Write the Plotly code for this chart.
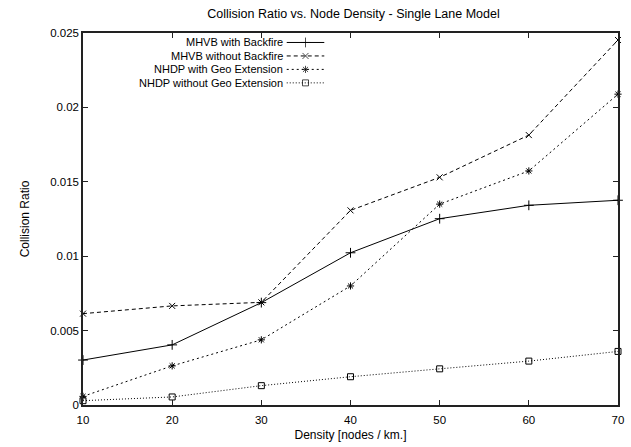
import plotly.graph_objects as go

density = [10, 20, 30, 40, 50, 60, 70]
mhvb_with = [0.00302, 0.00404, 0.00688, 0.01023, 0.01252, 0.01342, 0.01376]
mhvb_without = [0.00614, 0.00666, 0.00690, 0.01308, 0.01530, 0.01814, 0.02453]
nhdp_geo = [0.00058, 0.00263, 0.00438, 0.00800, 0.01350, 0.01573, 0.02089]
nhdp_nogeo = [0.00029, 0.00054, 0.00130, 0.00190, 0.00243, 0.00295, 0.00360]

series_names = ["MHVB with Backfire", "MHVB without Backfire",
                "NHDP with Geo Extension", "NHDP without Geo Extension"]
x_ticks = [10, 20, 30, 40, 50, 60, 70]
y_ticks = [0, 0.005, 0.01, 0.015, 0.02, 0.025]
y_tick_text = ["0", "0.005", "0.01", "0.015", "0.02", "0.025"]

FONT = "Arial, Liberation Sans, Helvetica, sans-serif"
styles = [
    dict(dash="solid", symbol="cross-thin-open", size=7),
    dict(dash="4px,3px", symbol="x-thin-open", size=6),
    dict(dash="2px,3px", symbol="asterisk-open", size=6),
    dict(dash="1px,2px", symbol="square-open", size=6),
]
data = [mhvb_with, mhvb_without, nhdp_geo, nhdp_nogeo]

fig = go.Figure()
for name, ys, st in zip(series_names, data, styles):
    fig.add_trace(go.Scatter(
        x=density, y=ys, name=name, mode="lines+markers",
        line=dict(color="black", width=1, dash=st["dash"]),
        marker=dict(symbol=st["symbol"], size=st["size"], color="black",
                    line=dict(color="black", width=1)),
        cliponaxis=False, showlegend=False,
    ))

# gnuplot-style key: text right-aligned, sample on the right
plot_l, plot_r, plot_t, plot_b = 83, 624, 33, 406
W, H = plot_r - plot_l, plot_b - plot_t
text_right = (286.5 - plot_l) / W
samp_a, samp_b = (289 - plot_l) / W, (327 - plot_l) / W
row_px = [42.5, 56.0, 69.5, 83.0]
for name, st, py in zip(series_names, styles, row_px):
    yp = (plot_b - py) / H
    fig.add_annotation(x=text_right, y=yp, xref="paper", yref="paper",
                       text=name, showarrow=False, xanchor="right",
                       yanchor="middle", borderpad=0,
                       font=dict(family=FONT, size=11, color="black"))
    fig.add_trace(go.Scatter(
        x=[samp_a, (samp_a + samp_b) / 2, samp_b], y=[yp, yp, yp],
        xaxis="x2", yaxis="y2", mode="lines+markers", showlegend=False,
        hoverinfo="skip",
        line=dict(color="black", width=1, dash=st["dash"]),
        marker=dict(symbol=st["symbol"], size=[0, st["size"], 0], color="black",
                    line=dict(color="black", width=1)),
        cliponaxis=False,
    ))

axis_common = dict(
    showgrid=False, zeroline=False, showline=True, linecolor="#222",
    linewidth=1.5, mirror="ticks", ticks="inside", ticklen=5,
    tickcolor="#222", tickwidth=1,
    tickfont=dict(family=FONT, size=11.5, color="black"),
)

fig.update_layout(
    width=631, height=447,
    margin=dict(l=plot_l, r=631 - plot_r, t=plot_t, b=447 - plot_b),
    paper_bgcolor="white", plot_bgcolor="white",
    title=dict(text="Collision Ratio vs. Node Density - Single Lane Model",
               x=(plot_l + plot_r) / 2 / 631, xanchor="center",
               y=1 - 14 / 447, yanchor="middle",
               font=dict(family=FONT, size=12.5, color="black")),
    xaxis=dict(range=[10, 70], tickvals=x_ticks, ticklabelstandoff=3,
               title=dict(text="Density [nodes / km.]", standoff=6,
                          font=dict(family=FONT, size=12, color="black")),
               **axis_common),
    yaxis=dict(range=[0, 0.025], tickvals=y_ticks, ticktext=y_tick_text,
               title=dict(text="Collision Ratio", standoff=18,
                          font=dict(family=FONT, size=12, color="black")),
               **axis_common),
    xaxis2=dict(range=[0, 1], overlaying="x", visible=False, fixedrange=True),
    yaxis2=dict(range=[0, 1], overlaying="y", visible=False, fixedrange=True),
    showlegend=False,
)

fig.write_html("out.html", config={"displayModeBar": False},
               post_script="document.body.style.margin='0';")
